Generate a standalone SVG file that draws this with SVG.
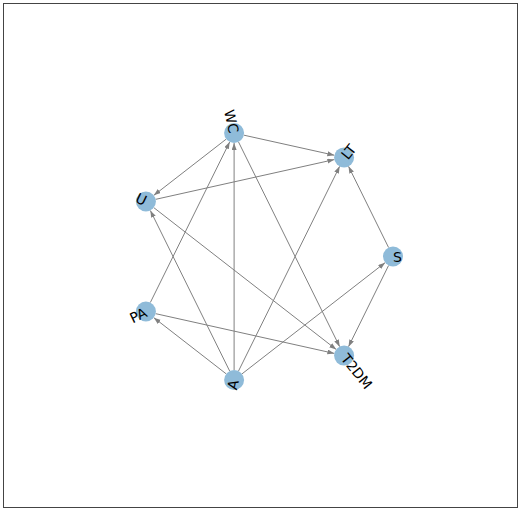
<svg xmlns="http://www.w3.org/2000/svg" width="520" height="510" viewBox="0 0 520 510">
<style>
.edge{stroke:#808080;stroke-width:1;fill:none;marker-end:url(#ah)}
.node circle{fill:#8fbbd9;stroke:none}
.node text{font-family:"DejaVu Sans",sans-serif;font-size:14px;fill:#000;dominant-baseline:central}
</style>
<defs>
<marker id="ah" markerUnits="userSpaceOnUse" markerWidth="8" markerHeight="6" refX="7" refY="2.5" orient="auto">
<path d="M0,0 L7,2.5 L0,5 z" fill="#808080"/>
</marker>
</defs>
<rect x="0" y="0" width="520" height="510" fill="#fff"/>
<rect x="3.5" y="3.5" width="514" height="504" fill="none" stroke="#444" stroke-width="1"/>
<g id="edges">
<line class="edge" x1="243.86" y1="135.17" x2="334.34" y2="155.23"/>
<line class="edge" x1="226.20" y1="139.13" x2="153.80" y2="195.37"/>
<line class="edge" x1="238.53" y1="141.97" x2="339.67" y2="346.64"/>
<line class="edge" x1="155.66" y1="199.33" x2="334.34" y2="159.57"/>
<line class="edge" x1="153.80" y1="207.64" x2="336.21" y2="349.46"/>
<line class="edge" x1="150.33" y1="302.53" x2="229.67" y2="141.97"/>
<line class="edge" x1="155.66" y1="313.67" x2="334.34" y2="353.43"/>
<line class="edge" x1="234.1" y1="370" x2="234.1" y2="143"/>
<line class="edge" x1="229.67" y1="371.04" x2="150.33" y2="210.47"/>
<line class="edge" x1="226.20" y1="373.87" x2="153.80" y2="317.63"/>
<line class="edge" x1="238.53" y1="371.04" x2="339.67" y2="166.37"/>
<line class="edge" x1="242.00" y1="373.86" x2="385.10" y2="262.64"/>
<line class="edge" x1="388.58" y1="247.53" x2="348.53" y2="166.37"/>
<line class="edge" x1="388.58" y1="265.47" x2="348.53" y2="346.63"/>
</g>
<g id="node-S" class="node"><circle cx="393" cy="256.5" r="10"/><text x="393" y="256.5" text-anchor="start">S</text></g>
<g id="node-LT" class="node"><circle cx="344.1" cy="157.4" r="10"/><text x="344.1" y="157.4" text-anchor="start" transform="rotate(-51.43 344.1 157.4)">LT</text></g>
<g id="node-WC" class="node"><circle cx="234.1" cy="133" r="10"/><text x="234.1" y="133" text-anchor="end" transform="rotate(77.14 234.1 133)">WC</text></g>
<g id="node-U" class="node"><circle cx="145.9" cy="201.5" r="10"/><text x="145.9" y="201.5" text-anchor="end" transform="rotate(25.71 145.9 201.5)">U</text></g>
<g id="node-PA" class="node"><circle cx="145.9" cy="311.5" r="10"/><text x="145.9" y="311.5" text-anchor="end" transform="rotate(-25.71 145.9 311.5)">PA</text></g>
<g id="node-A" class="node"><circle cx="234.1" cy="380" r="10"/><text x="234.1" y="380" text-anchor="end" transform="rotate(-77.14 234.1 380)">A</text></g>
<g id="node-T2DM" class="node"><circle cx="344.1" cy="355.6" r="10"/><text x="344.1" y="355.6" text-anchor="start" transform="rotate(51.43 344.1 355.6)">T2DM</text></g>
</svg>
